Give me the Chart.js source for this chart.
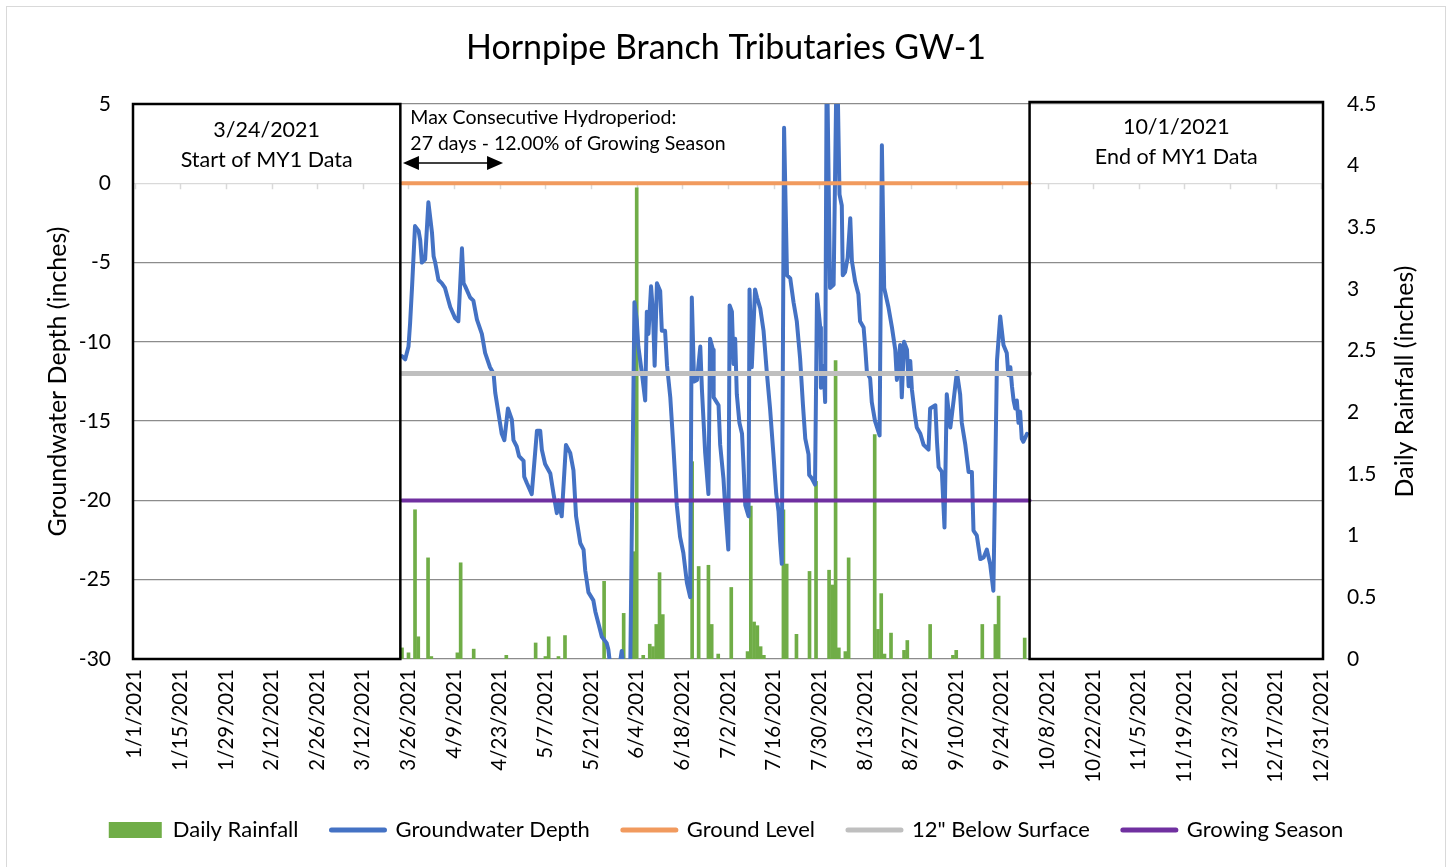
<!DOCTYPE html>
<html>
<head>
<meta charset="utf-8">
<title>Hornpipe Branch Tributaries GW-1</title>
<script src="https://cdn.jsdelivr.net/npm/chart.js@4.4.1/dist/chart.umd.min.js"></script>
<style>
  html, body { margin: 0; padding: 0; background: #fff; }
  #wrap { width: 1452px; height: 867px; }
</style>
</head>
<body>
<div id="wrap"><canvas id="myChart" width="1452" height="867"></canvas></div>
<script>
// Days are counted from 1/1/2021 (day 0).

// Groundwater depth (inches), logger trace
const gwDay = [
  82.0, 83.0, 84.0, 84.5, 85.1, 86.0, 87.1, 87.6, 88.1, 89.1,
  90.1, 91.2, 91.7, 92.2, 93.2, 94.2, 95.2, 96.8, 98.3, 99.3,
  100.4, 100.9, 101.4, 102.9, 103.9, 105.0, 106.5, 107.5, 109.0, 110.1,
  110.6, 111.6, 112.6, 113.4, 114.5, 115.7, 116.2, 117.2, 117.9, 119.3,
  119.5, 120.3, 121.8, 123.4, 124.4, 124.9, 125.9, 127.5, 128.5, 129.5,
  130.0, 131.0, 132.3, 133.6, 134.6, 135.4, 136.7, 137.7, 138.2, 139.2,
  140.7, 141.3, 142.3, 143.3, 144.8, 145.3, 146.2, 148.3, 149.4, 150.2,
  152.0, 153.3, 154.0, 154.5, 155.6, 156.6, 157.1, 157.6, 158.4, 159.0,
  159.5, 160.2, 161.2, 161.7, 162.7, 163.3, 164.3, 165.3, 166.3, 167.3,
  168.3, 169.4, 170.4, 170.9, 171.6, 172.5, 173.5, 174.0, 175.0, 176.0,
  176.5, 177.4, 177.6, 179.1, 179.6, 180.6, 181.1, 182.1, 182.5, 183.2,
  183.7, 184.2, 184.7, 185.5, 186.3, 186.7, 187.3, 188.3, 188.6, 189.3,
  190.3, 190.9, 191.9, 192.9, 193.9, 194.9, 195.9, 196.8, 197.5, 198.0,
  198.5, 199.2, 200.1, 201.1, 202.1, 203.1, 204.1, 205.0, 205.7, 206.7,
  206.9, 207.7, 208.7, 209.3, 210.3, 210.5, 211.3, 211.8, 212.3, 213.3,
  214.4, 215.4, 216.2, 216.9, 217.2, 217.9, 218.7, 219.5, 220.0, 221.0,
  222.0, 222.5, 223.6, 224.1, 224.6, 225.6, 226.1, 227.1, 228.5, 229.2,
  229.9, 231.2, 232.3, 233.3, 233.8, 234.8, 235.3, 236.0, 236.9, 237.4,
  237.9, 238.4, 239.4, 239.9, 241.0, 242.0, 243.5, 244.0, 245.6, 246.1,
  246.6, 247.6, 248.4, 249.1, 250.2, 251.2, 252.2, 253.2, 253.7, 254.8,
  255.8, 256.8, 257.3, 258.3, 259.4, 260.4, 261.4, 262.4, 263.4, 264.5,
  265.5, 266.5, 267.5, 268.0, 268.6, 269.1, 269.6, 270.1, 270.6, 271.1,
  271.6, 272.1, 272.6, 273.7
];
const gwDepth = [
  -10.9, -11.1, -10.3, -8.8, -6.5, -2.7, -3.0, -3.6, -5.0, -4.8,
  -1.2, -3.1, -4.6, -5.0, -6.1, -6.3, -6.6, -7.8, -8.5, -8.7,
  -4.1, -6.3, -6.5, -7.2, -7.4, -8.6, -9.5, -10.7, -11.6, -12.0,
  -13.2, -14.5, -15.8, -16.2, -14.2, -14.9, -16.2, -16.6, -17.2, -17.5,
  -18.5, -18.9, -19.6, -15.6, -15.6, -16.8, -17.7, -18.3, -19.6, -20.8,
  -20.0, -21.0, -16.5, -17.0, -18.1, -21.0, -22.7, -23.1, -24.4, -25.8,
  -26.3, -27.0, -27.8, -28.6, -29.0, -29.4, -31.0, -31.0, -29.5, -31.0,
  -31.0, -7.5, -8.6, -10.3, -12.0, -13.7, -8.1, -9.5, -6.5, -8.2,
  -11.5, -6.3, -6.8, -9.3, -9.3, -11.5, -13.5, -16.8, -20.3, -22.3,
  -23.3, -25.2, -26.1, -7.2, -12.5, -12.4, -10.3, -13.0, -17.0, -19.6,
  -9.8, -10.5, -13.5, -14.0, -16.5, -18.6, -20.3, -23.1, -7.7, -8.1,
  -11.4, -9.8, -13.3, -15.1, -15.8, -17.5, -20.3, -21.0, -6.7, -11.6,
  -6.7, -7.2, -7.9, -9.3, -11.9, -14.2, -17.0, -19.6, -20.7, -22.6,
  -24.0, 3.5, -5.8, -6.0, -7.5, -8.7, -11.0, -14.0, -16.1, -17.1,
  -18.4, -18.6, -19.0, -7.0, -9.1, -12.9, -11.5, -13.8, 9.0, -6.6,
  -6.4, 9.0, -0.7, -1.4, -5.8, -5.6, -4.7, -2.2, -4.9, -6.2,
  -7.0, -8.7, -9.1, -10.4, -11.9, -12.3, -13.8, -15.0, -15.9, 2.4,
  -6.6, -7.8, -9.1, -10.5, -12.4, -10.2, -13.5, -10.0, -10.5, -12.8,
  -11.2, -13.0, -14.7, -15.4, -15.8, -16.5, -16.8, -14.2, -14.0, -16.3,
  -17.9, -18.2, -21.7, -13.3, -15.4, -13.7, -11.9, -13.3, -15.1, -16.5,
  -18.2, -18.2, -21.9, -22.2, -23.7, -23.6, -23.1, -24.0, -25.7, -11.2,
  -8.4, -10.2, -10.7, -12.1, -11.6, -12.8, -13.7, -14.2, -13.7, -15.1,
  -14.4, -16.1, -16.3, -15.8
];

// Daily rainfall (inches), days with rain only
const rainDay = [
  82, 84, 86, 87, 90, 91, 99, 100, 104, 114,
  123, 126, 127, 130, 132, 144, 150, 153, 154, 156,
  158, 159, 160, 161, 162, 171, 173, 176, 177, 179,
  183, 188, 189, 190, 191, 192, 193, 199, 200, 203,
  207, 209, 213, 214, 215, 216, 218, 219, 227, 228,
  229, 230, 232, 236, 237, 244, 251, 252, 260, 264,
  265, 273
];
const rainInches = [
  0.09, 0.05, 1.21, 0.18, 0.82, 0.02, 0.05, 0.78, 0.08, 0.03,
  0.13, 0.02, 0.18, 0.02, 0.19, 0.63, 0.37, 0.87, 3.82, 0.03,
  0.12, 0.10, 0.28, 0.70, 0.36, 1.60, 0.75, 0.76, 0.28, 0.04,
  0.58, 0.06, 1.24, 0.30, 0.27, 0.10, 0.03, 1.21, 0.77, 0.20,
  0.71, 1.44, 0.72, 0.60, 2.42, 0.09, 0.06, 0.82, 1.82, 0.24,
  0.53, 0.04, 0.21, 0.07, 0.15, 0.28, 0.03, 0.07, 0.28, 0.28,
  0.51, 0.17
];

// Reference levels, drawn over the monitoring period
const refDays = [82, 274.5];
const groundLevel = 0;
const belowSurface12 = -12;
const growingSeasonLevel = -20;

// Notes placed on the chart
const startNote = ['3/24/2021', 'Start of MY1 Data'];
const endNote = ['10/1/2021', 'End of MY1 Data'];
const hydroNote = ['Max Consecutive Hydroperiod:', '27 days - 12.00% of Growing Season'];
const startBoxEnd = 81.5;
const endBoxStart = 274.5;
const arrowDays = [82.3, 113];

const FONT = 'Lato, "Open Sans", sans-serif';

function dateLabel(d) {
  const dt = new Date(2021, 0, 1 + d);
  return (dt.getMonth() + 1) + '/' + dt.getDate() + '/' + dt.getFullYear();
}

function refLine(value) {
  return refDays.map(d => ({ x: d, y: value }));
}

// Extra drawing: chart border, zero axis ticks, boxes, notes, right axis title
const decorPlugin = {
  id: 'decor',
  afterLayout(chart) {
    // let the long rotated date labels run past the axis box without clipping
    chart.scales.x.bottom = chart.height;
  },
  beforeDraw(chart) {
    const ctx = chart.ctx;
    ctx.save();
    ctx.fillStyle = '#fff';
    ctx.fillRect(0, 0, chart.width, chart.height);
    ctx.strokeStyle = '#D9D9D9';
    ctx.lineWidth = 1;
    ctx.strokeRect(6.5, 6.5, chart.width - 13, chart.height);
    ctx.restore();
  },
  beforeDatasetsDraw(chart) {
    const { ctx, scales: { x, y } } = chart;
    const y0 = y.getPixelForValue(0);
    ctx.save();
    ctx.strokeStyle = '#D9D9D9';
    ctx.lineWidth = 1.5;
    ctx.beginPath();
    x.ticks.forEach(t => {
      const px = Math.round(x.getPixelForValue(t.value)) + 0.5;
      ctx.moveTo(px, y0);
      ctx.lineTo(px, y0 + 6);
    });
    ctx.stroke();
    ctx.restore();
  },
  afterDatasetsDraw(chart) {
    const { ctx, chartArea: a, scales: { x, y1 } } = chart;
    ctx.save();

    const lx = x.getPixelForValue(startBoxEnd);
    const rx = x.getPixelForValue(endBoxStart);
    ctx.strokeStyle = '#000';
    ctx.lineWidth = 2.5;
    ctx.strokeRect(a.left, a.top, lx - a.left, a.bottom - a.top);
    ctx.strokeRect(rx, a.top - 2, a.right - rx, a.bottom - a.top + 2);

    ctx.fillStyle = '#000';
    ctx.textAlign = 'center';
    ctx.textBaseline = 'middle';
    ctx.font = '21.5px ' + FONT;
    ctx.fillText(startNote[0], (a.left + lx) / 2, a.top + 26);
    ctx.fillText(startNote[1], (a.left + lx) / 2, a.top + 56);
    ctx.fillText(endNote[0], (rx + a.right) / 2, a.top + 23);
    ctx.fillText(endNote[1], (rx + a.right) / 2, a.top + 53);

    ctx.textAlign = 'left';
    ctx.font = '19.5px ' + FONT;
    ctx.fillText(hydroNote[0], lx + 10, a.top + 14);
    ctx.fillText(hydroNote[1], lx + 10, a.top + 40);

    // double headed arrow
    const ax0 = x.getPixelForValue(arrowDays[0]);
    const ax1 = x.getPixelForValue(arrowDays[1]);
    const ay = a.top + 59;
    ctx.strokeStyle = '#000';
    ctx.lineWidth = 1.5;
    ctx.beginPath();
    ctx.moveTo(ax0 + 10, ay);
    ctx.lineTo(ax1 - 10, ay);
    ctx.stroke();
    ctx.beginPath();
    ctx.moveTo(ax0, ay);
    ctx.lineTo(ax0 + 16, ay - 7);
    ctx.lineTo(ax0 + 16, ay + 7);
    ctx.closePath();
    ctx.moveTo(ax1, ay);
    ctx.lineTo(ax1 - 16, ay - 7);
    ctx.lineTo(ax1 - 16, ay + 7);
    ctx.closePath();
    ctx.fill();

    // right axis title reads bottom to top like the left one
    ctx.translate(y1.right - 47, (a.top + a.bottom) / 2);
    ctx.rotate(-Math.PI / 2);
    ctx.textAlign = 'center';
    ctx.font = '25px ' + FONT;
    ctx.fillText('Daily Rainfall (inches)', 0, 0);
    ctx.restore();
  }
};

const ctx = document.getElementById('myChart').getContext('2d');
new Chart(ctx, {
  type: 'line',
  data: {
    datasets: [
      {
        type: 'bar',
        label: 'Daily Rainfall',
        data: rainDay.map((d, i) => ({ x: d, y: rainInches[i] })),
        backgroundColor: '#70AD47',
        borderWidth: 0,
        barThickness: 3,
        yAxisID: 'y1',
        order: 5
      },
      {
        label: 'Groundwater Depth',
        data: gwDay.map((d, i) => ({ x: d, y: gwDepth[i] })),
        borderColor: '#4472C4',
        borderWidth: 4,
        borderJoinStyle: 'round',
        borderCapStyle: 'round',
        pointRadius: 0,
        tension: 0,
        clip: 0,
        yAxisID: 'y',
        order: 4
      },
      {
        label: 'Ground Level',
        data: refLine(groundLevel),
        borderColor: '#F19A5E',
        borderWidth: 4,
        borderCapStyle: 'round',
        pointRadius: 0,
        yAxisID: 'y',
        order: 3
      },
      {
        label: '12" Below Surface',
        data: refLine(belowSurface12),
        borderColor: '#BFBFBF',
        borderWidth: 5,
        borderCapStyle: 'round',
        pointRadius: 0,
        yAxisID: 'y',
        order: 2
      },
      {
        label: 'Growing Season',
        data: refLine(growingSeasonLevel),
        borderColor: '#7030A0',
        borderWidth: 4,
        borderCapStyle: 'round',
        pointRadius: 0,
        yAxisID: 'y',
        order: 1
      }
    ]
  },
  options: {
    responsive: false,
    animation: false,
    layout: { padding: { top: 0, left: 0, right: 0, bottom: 16 } },
    scales: {
      x: {
        type: 'linear',
        min: -0.5,
        max: 364.5,
        offset: false,
        grid: { display: false },
        border: { display: false },
        ticks: {
          stepSize: 14,
          includeBounds: false,
          autoSkip: false,
          minRotation: 90,
          maxRotation: 90,
          padding: 2,
          color: '#000',
          font: { family: FONT, size: 20.5 },
          callback: v => dateLabel(v)
        },
        afterFit: s => { s.height = 127; }
      },
      y: {
        position: 'left',
        min: -30,
        max: 5,
        ticks: {
          stepSize: 5,
          padding: 22,
          color: '#000',
          font: { family: FONT, size: 21 }
        },
        grid: {
          drawTicks: false,
          lineWidth: 1.3,
          color: c => (c.tick && c.tick.value === 0) ? '#D9D9D9' : '#8C8C8C'
        },
        border: { display: false },
        title: {
          display: true,
          text: 'Groundwater Depth (inches)',
          color: '#000',
          font: { family: FONT, size: 25 },
          padding: { top: 43, bottom: 0 }
        },
        afterFit: s => { s.width = 133; }
      },
      y1: {
        position: 'right',
        min: 0,
        max: 4.5,
        ticks: {
          stepSize: 0.5,
          padding: 24,
          color: '#000',
          font: { family: FONT, size: 21 },
          callback: v => String(v)
        },
        grid: { display: false, drawTicks: false },
        border: { display: false },
        afterFit: s => { s.width = 129; }
      }
    },
    plugins: {
      title: {
        display: true,
        text: 'Hornpipe Branch Tributaries GW-1',
        color: '#000',
        font: { family: FONT, size: 34, weight: 'normal' },
        padding: { top: 28, bottom: 35.2 }
      },
      legend: {
        position: 'bottom',
        labels: {
          usePointStyle: true,
          pointStyleWidth: 53,
          boxHeight: 16,
          padding: 33,
          color: '#000',
          font: { family: FONT, size: 22 },
          generateLabels: chart => chart.data.datasets.map((ds, i) => {
            const isBar = ds.type === 'bar';
            const col = isBar ? ds.backgroundColor : ds.borderColor;
            return {
              text: ds.label,
              fillStyle: col,
              strokeStyle: col,
              lineWidth: isBar ? 0 : 5,
              lineCap: 'round',
              pointStyle: isBar ? 'rect' : 'line',
              fontColor: '#000',
              hidden: false,
              datasetIndex: i
            };
          })
        }
      },
      tooltip: { enabled: false }
    }
  },
  plugins: [decorPlugin]
});
</script>
</body>
</html>
